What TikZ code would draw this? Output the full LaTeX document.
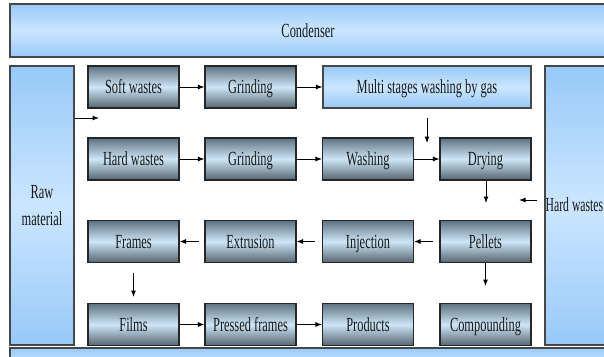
\documentclass[tikz,border=0pt]{standalone}
\usepackage{fontspec}
\setmainfont{Liberation Serif}
\usepackage{graphicx}
\usetikzlibrary{arrows.meta}
\newcommand\sqz[1]{\scalebox{0.62}[1]{#1}}
\definecolor{ptop}{HTML}{5F7282}
\definecolor{pmid}{HTML}{CDE6F7}
\definecolor{pbot}{HTML}{56646F}
\definecolor{btop}{HTML}{98C9F8}
\definecolor{bmid}{HTML}{CBE6FF}
\begin{document}
\begin{tikzpicture}[x=1pt,y=-1pt,
  proc/.style={draw=black!85, line width=1.1pt, minimum width=91pt, minimum height=42pt,
    inner sep=0pt, top color=ptop, bottom color=pbot, middle color=pmid,
    font=\fontsize{20}{24}\selectfont, text=black!90, text height=13.5pt, text depth=0pt},
  bluebox/.style={draw=black!72, line width=1.3pt, top color=btop, bottom color=btop,
    middle color=bmid, inner sep=0pt, font=\fontsize{20}{24}\selectfont, text=black!90},
  lbl/.style={inner sep=0pt, font=\fontsize{20}{24}\selectfont, text=black!90},
  arr/.style={-{Latex[length=6.5pt,width=5pt]}, line width=1pt}]
\useasboundingbox (0,0) rectangle (604,356);
\clip (0,0) rectangle (604,356);
\fill[white] (0,0) rectangle (604,356);
% large blue boxes
\node[bluebox, minimum width=596pt, minimum height=53pt, text height=13.5pt, text depth=0pt] (cond) at (308,30.5) {\sqz{Condenser}};
\node[bluebox, minimum width=64pt, minimum height=279pt, align=center] (raw) at (42,205.5)
  {\sqz{Raw}\\[3pt]\sqz{material}};
\node[bluebox, minimum width=80pt, minimum height=279pt] (rbox) at (585,205.5) {};
\node[lbl, anchor=west, text height=13.5pt, text depth=0pt] (hwt) at (545.5,205) {\scalebox{0.585}[1]{Hard wastes}};
\node[bluebox, minimum width=596pt, minimum height=32pt] (bot) at (308,364) {};
% process boxes
\node[proc] (soft) at (133.5,87) {\sqz{Soft wastes}};
\node[proc] (gr1) at (250.5,87) {\sqz{Grinding}};
\node[bluebox, line width=1.1pt, minimum width=208pt, minimum height=42pt, text height=13.5pt, text depth=0pt] (multi) at (427,87) {\sqz{Multi stages washing by gas}};
\node[proc] (hard) at (133.5,159) {\sqz{Hard wastes}};
\node[proc] (gr2) at (250.5,159) {\sqz{Grinding}};
\node[proc] (wash) at (368,159) {\sqz{Washing}};
\node[proc] (dry) at (485.5,159) {\sqz{Drying}};
\node[proc] (frames) at (133.5,241.5) {\sqz{Frames}};
\node[proc] (extr) at (250.5,241.5) {\sqz{Extrusion}};
\node[proc] (inj) at (368,241.5) {\sqz{Injection}};
\node[proc] (pel) at (485.5,241.5) {\sqz{Pellets}};
\node[proc] (films) at (133.5,324.5) {\sqz{Films}};
\node[proc] (press) at (250.5,324.5) {\sqz{Pressed frames}};
\node[proc] (prod) at (368,324.5) {\sqz{Products}};
\node[proc] (comp) at (485.5,324.5) {\sqz{Compounding}};
% free arrow ends
\coordinate (rawend) at (99,118);
\coordinate (mstart) at (427,118);
\coordinate (mend) at (427,143);
\coordinate (dend) at (486,203);
\coordinate (hws) at (537,200);
\coordinate (hwe) at (519,200);
\coordinate (pelS) at (433,241.5);
\coordinate (injS) at (315,241.5);
\coordinate (extS) at (199,241.5);
\coordinate (frE) at (133.5,297);
\coordinate (frS) at (133.5,273);
\coordinate (pelE) at (485.5,286);
% arrows
\draw[arr] (raw.east |- rawend) -- (rawend);
\draw[arr] (soft) -- (gr1);
\draw[arr] (gr1) -- (multi);
\draw[arr] (mstart) -- (mend);
\draw[arr] (hard) -- (gr2);
\draw[arr] (gr2) -- (wash);
\draw[arr] (wash) -- (dry);
\draw[arr] (dry.south -| dend) -- (dend);
\draw[arr] (hws) -- (hwe);
\draw[arr] (pelS) -- (inj.east);
\draw[arr] (injS) -- (extr.east);
\draw[arr] (extS) -- (frames.east);
\draw[arr] (pel) -- (pelE);
\draw[arr] (frS) -- (frE);
\draw[arr] (films) -- (press);
\draw[arr] (press) -- (prod);
\end{tikzpicture}
\end{document}
